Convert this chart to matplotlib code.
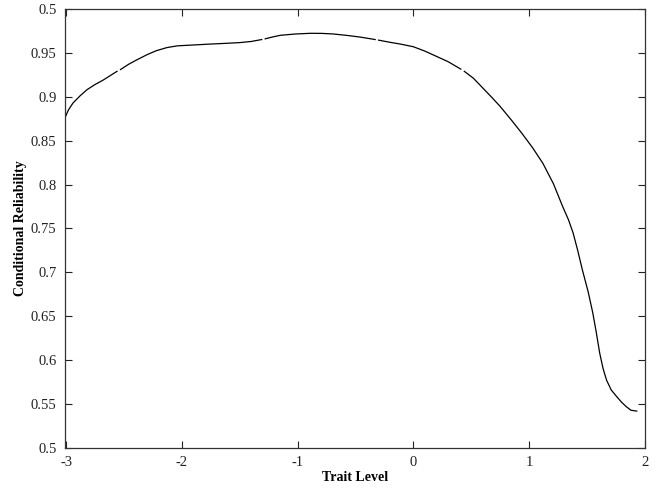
import numpy as np
import matplotlib
matplotlib.use('Agg')
import matplotlib.pyplot as plt

# curve (nan = small break in the drawn line)
trait = [-3.01, -2.98, -2.94, -2.88, -2.82, -2.75, -2.68, -2.62, -2.56, np.nan,
         -2.53, -2.46, -2.39, -2.30, -2.22, -2.13, -2.04, -1.90, -1.76, -1.63, -1.50, -1.40, -1.31, np.nan,
         -1.28, -1.22, -1.15, -1.02, -0.89, -0.79, -0.69, -0.58, -0.46, -0.33, np.nan,
         -0.30, -0.20, -0.11, 0.0, 0.10, 0.20, 0.30, 0.41, np.nan,
         0.44, 0.52, 0.60, 0.68, 0.75, 0.85, 0.94, 1.03, 1.12, 1.21, 1.29, 1.34, 1.38, 1.42, 1.46,
         1.51, 1.55, 1.58, 1.61, 1.64, 1.67, 1.71, 1.76, 1.80, 1.84, 1.88, 1.93]
reliability = [0.876, 0.885, 0.893, 0.901, 0.908, 0.914, 0.919, 0.924, 0.929, np.nan,
               0.931, 0.937, 0.942, 0.948, 0.9525, 0.956, 0.958, 0.959, 0.960, 0.9608, 0.9617, 0.963, 0.9652, np.nan,
               0.966, 0.968, 0.970, 0.9715, 0.9723, 0.9722, 0.9715, 0.970, 0.968, 0.9652, np.nan,
               0.9645, 0.962, 0.960, 0.957, 0.952, 0.946, 0.940, 0.9315, np.nan,
               0.929, 0.921, 0.910, 0.899, 0.889, 0.873, 0.858, 0.842, 0.824, 0.801, 0.775, 0.760, 0.745, 0.725, 0.703,
               0.678, 0.654, 0.632, 0.608, 0.590, 0.577, 0.566, 0.558, 0.552, 0.547, 0.543, 0.542]

xticks = [-3, -2, -1, 0, 1, 2]
xticklabels = ['-3', '-2', '-1', '0', '1', '2']
yticks = [0.5, 0.55, 0.6, 0.65, 0.7, 0.75, 0.8, 0.85, 0.9, 0.95, 1.0]
yticklabels = ['0.5', '0.55', '0.6', '0.65', '0.7', '0.75', '0.8', '0.85', '0.9', '0.95', '0.5']

plt.rcParams['font.family'] = ['Liberation Serif', 'DejaVu Serif']

fig = plt.figure(figsize=(6.56, 4.88), dpi=100)
ax = fig.add_axes([0.099, 0.082, 0.884, 0.8996])
ax.plot(trait, reliability, color='black', lw=0.9)

ax.set_xlim(-3.01, 2.0)
ax.set_ylim(0.5, 1.0)
ax.set_xticks(xticks)
ax.set_xticklabels(xticklabels)
ax.set_yticks(yticks)
ax.set_yticklabels(yticklabels)
ax.tick_params(direction='in', length=5, width=0.8, top=True, right=True, labelsize=10.5, colors='#222222', pad=6)
for s in ax.spines.values():
    s.set_linewidth(0.9)
    s.set_color('#333333')

ax.set_xlabel('Trait Level', fontweight='bold', fontsize=10, labelpad=1)
ax.set_ylabel('Conditional Reliability', fontweight='bold', fontsize=10, labelpad=3)

fig.savefig('out.png', dpi=100)
